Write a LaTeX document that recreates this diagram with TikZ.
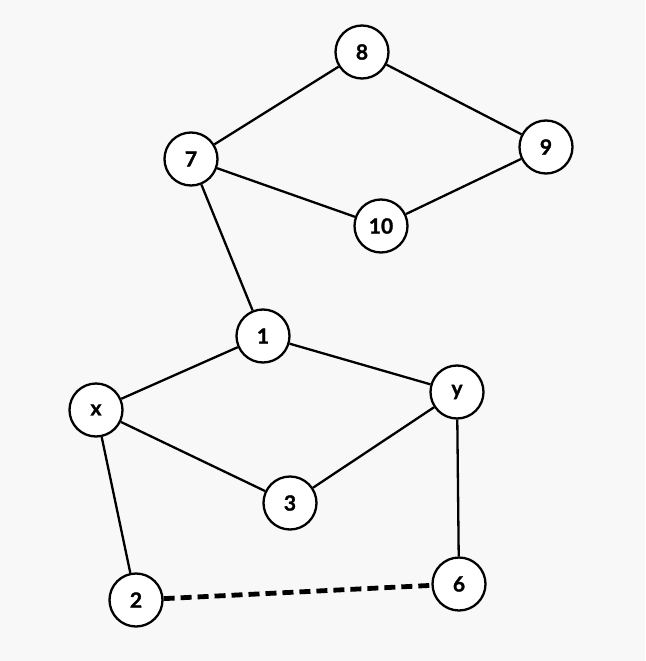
\documentclass[tikz,border=0pt]{standalone}
\usepackage{fontspec}
\setmainfont{Lato}[BoldFeatures={FakeBold=1.3}]
\newcommand{\vfont}{\fontsize{21}{21}\selectfont\bfseries}
\begin{document}
\begin{tikzpicture}[x=1pt,y=-1pt,
  vtx/.style={circle,draw=black,line width=2.3pt,fill=white,minimum size=53pt,inner sep=0pt,font=\vfont},
  edge/.style={line width=2.3pt,black},
  dedge/.style={line width=4.8pt,black,dash pattern=on 11pt off 6pt}]
\fill[fill={rgb,255:red,248;green,248;blue,248}] (0,0) rectangle (645,661);
\useasboundingbox (0,0) rectangle (645,661);
\node[vtx] (n8) at (362,52) {8};
\node[vtx] (n7) at (191,159) {7};
\node[vtx] (n9) at (546,147) {9};
\node[vtx] (n10) at (381,226) {10};
\node[vtx] (n1) at (263,336) {1};
\node[vtx] (nx) at (96,410) {x};
\node[vtx] (ny) at (457,392) {y};
\node[vtx] (n3) at (290,503) {3};
\node[vtx] (n2) at (136,600) {2};
\node[vtx] (n6) at (459,584) {6};
\draw[edge] (n7) -- (n8);
\draw[edge] (n8) -- (n9);
\draw[edge] (n7) -- (n10);
\draw[edge] (n10) -- (n9);
\draw[edge] (n7) -- (n1);
\draw[edge] (n1) -- (nx);
\draw[edge] (n1) -- (ny);
\draw[edge] (nx) -- (n3);
\draw[edge] (n3) -- (ny);
\draw[edge] (nx) -- (n2);
\draw[edge] (ny) -- (n6);
\draw[dedge] (n2) -- (n6);
\end{tikzpicture}
\end{document}
